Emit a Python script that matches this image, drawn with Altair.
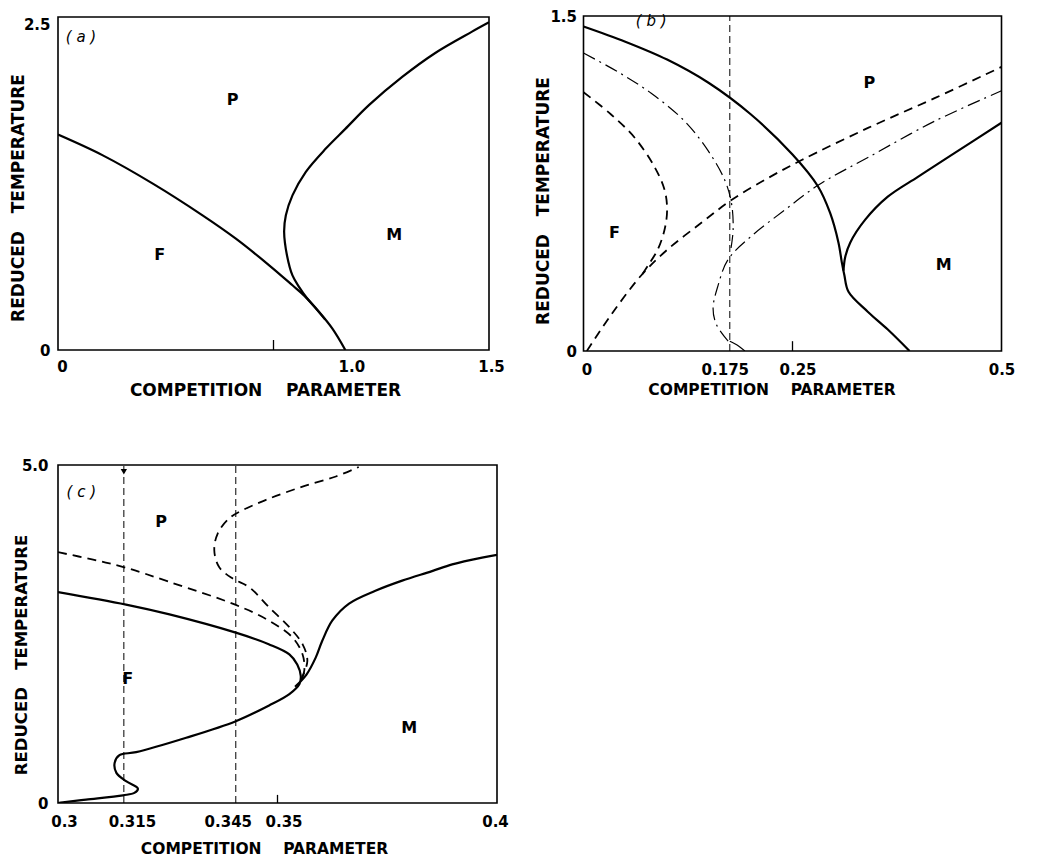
import altair as alt
import pandas as pd

FONT = "DejaVu Sans"
X_TITLE = "COMPETITION\u00a0\u00a0\u00a0\u00a0PARAMETER"
Y_TITLE = "REDUCED\u00a0\u00a0\u00a0TEMPERATURE"

# ---------------- panel (a) ----------------
a_x_ticks = [0.0, 1.0, 1.5]
a_x_tick_labels = ["0", "1.0", "1.5"]
a_y_ticks = [0.0, 2.5]
a_y_tick_labels = ["0", "2.5"]
a_fp_x = [0.0, 0.156, 0.33, 0.503, 0.619, 0.735, 0.816, 0.856, 0.909, 0.955, 1.0]
a_fp_y = [1.617, 1.461, 1.249, 1.011, 0.836, 0.636, 0.486, 0.41, 0.285, 0.16, 0.0]
a_pm_x = [0.93, 0.895, 0.866, 0.84, 0.816, 0.797, 0.787, 0.793, 0.816, 0.862, 0.932, 1.0, 1.083, 1.198,
          1.313, 1.441, 1.5]
a_pm_y = [0.228, 0.318, 0.39, 0.47, 0.56, 0.71, 0.886, 1.011, 1.161, 1.336, 1.512, 1.66, 1.84, 2.05,
          2.23, 2.39, 2.46]
a_minor_ticks = [0.75]
a_region_text = ["P", "F", "M"]
a_region_x = [0.608, 0.354, 1.17]
a_region_y = [1.88, 0.713, 0.863]
a_tag = ["( a )"]
a_tag_x = [0.08]
a_tag_y = [2.35]

# ---------------- panel (b) ----------------
b_x_ticks = [0.0, 0.175, 0.25, 0.5]
b_x_tick_labels = ["0", "0.175", "0.25", "0.5"]
b_y_ticks = [0.0, 1.5]
b_y_tick_labels = ["0", "1.5"]
b_fp_x = [0.0, 0.05, 0.1, 0.15, 0.2, 0.25, 0.28, 0.295, 0.305, 0.309, 0.312, 0.317, 0.340, 0.364, 0.39]
b_fp_y = [1.453, 1.385, 1.305, 1.2, 1.06, 0.88, 0.74, 0.618, 0.485, 0.397, 0.34, 0.265, 0.176, 0.096, 0.0]
b_pm_x = [0.311, 0.313, 0.319, 0.337, 0.364, 0.400, 0.440, 0.5]
b_pm_y = [0.36, 0.42, 0.485, 0.588, 0.691, 0.78, 0.877, 1.022]
b_d1_x = [0.0, 0.033, 0.061, 0.085, 0.097, 0.100, 0.097, 0.089, 0.077, 0.068]
b_d1_y = [1.159, 1.059, 0.956, 0.824, 0.721, 0.632, 0.544, 0.456, 0.382, 0.33]
b_d2_x = [0.004, 0.033, 0.069, 0.101, 0.141, 0.177, 0.221, 0.261, 0.341, 0.420, 0.5]
b_d2_y = [0.0, 0.162, 0.338, 0.456, 0.574, 0.676, 0.775, 0.855, 1.0, 1.132, 1.272]
b_dd1_x = [0.0, 0.041, 0.081, 0.121, 0.149, 0.169, 0.177, 0.179, 0.176]
b_dd1_y = [1.334, 1.25, 1.154, 1.029, 0.897, 0.765, 0.662, 0.544, 0.45]
b_dd2_x = [0.173, 0.159, 0.155, 0.161, 0.173, 0.201, 0.241, 0.281, 0.341, 0.420, 0.5]
b_dd2_y = [0.044, 0.118, 0.191, 0.294, 0.41, 0.515, 0.632, 0.743, 0.868, 1.029, 1.165]
b_seg_x = [0.175, 0.185, 0.193]
b_seg_y = [0.044, 0.024, 0.0]
b_vlines = [0.175]
b_minor_ticks = [0.25]
b_region_text = ["P", "F", "M"]
b_region_x = [0.342, 0.037, 0.431]
b_region_y = [1.2, 0.53, 0.384]
b_tag = ["( b )"]
b_tag_x = [0.081]
b_tag_y = [1.478]

# ---------------- panel (c) ----------------
c_x_ticks = [0.3, 0.315, 0.3405, 0.35, 0.4]
c_x_tick_labels = ["0.3", "0.315", "0.345", "0.35", "0.4"]
c_y_ticks = [0.0, 5.0]
c_y_tick_labels = ["0", "5.0"]
c_fp_x = [0.3, 0.3155, 0.3254, 0.3405, 0.348, 0.3527, 0.3545, 0.3553, 0.355, 0.3527, 0.348, 0.3405,
          0.3292, 0.3178, 0.314, 0.3129, 0.3133, 0.3155, 0.3182, 0.3174, 0.3148, 0.3064, 0.3011, 0.3]
c_fp_y = [3.12, 2.935, 2.79, 2.52, 2.35, 2.20, 2.05, 1.88, 1.76, 1.61, 1.44, 1.21,
          0.965, 0.752, 0.708, 0.594, 0.446, 0.322, 0.213, 0.149, 0.114, 0.05, 0.01, 0.0]
c_pm_x = [0.354, 0.3566, 0.3587, 0.3602, 0.3625, 0.3663, 0.3723, 0.3784, 0.3852, 0.3898, 0.3966, 0.4]
c_pm_y = [1.72, 1.9, 2.15, 2.40, 2.70, 2.95, 3.14, 3.29, 3.43, 3.53, 3.63, 3.67]
c_d1_x = [0.3, 0.308, 0.3155, 0.3254, 0.3405, 0.348, 0.3534, 0.3557, 0.3561, 0.3553]
c_d1_y = [3.71, 3.6, 3.48, 3.27, 2.93, 2.70, 2.45, 2.20, 1.96, 1.81]
c_d2_x = [0.3553, 0.3568, 0.3557, 0.3527, 0.348, 0.3436, 0.3398, 0.3367, 0.3356, 0.3364, 0.339,
          0.342, 0.348, 0.3557, 0.3633, 0.3685]
c_d2_y = [1.81, 2.10, 2.35, 2.60, 2.90, 3.19, 3.32, 3.49, 3.74, 3.99, 4.21, 4.33, 4.50, 4.68, 4.83, 4.97]
c_vlines = [0.315, 0.3405]
c_minor_ticks = [0.35]
c_arrow_x = [0.315]
c_arrow_y = [4.9]
c_region_text = ["P", "F", "M"]
c_region_x = [0.3235, 0.3159, 0.38]
c_region_y = [4.16, 1.83, 1.11]
c_tag = ["( c )"]
c_tag_x = [0.3053]
c_tag_y = [4.6]

# label nudges (pixels) so tick labels sit where the original lettering does
a_x_label_nudge = [4, 6, 2]
b_x_label_nudge = [3, -5, 5, 0]
c_x_label_nudge = [6, 8, -8, 6, -2]


def curve_df(name, xs, ys):
    return pd.DataFrame({"x": xs, "y": ys, "series": name, "i": list(range(len(xs)))})


def label_expr(vals, texts):
    expr = "''"
    for v, t in zip(reversed(vals), reversed(texts)):
        expr = f"abs(datum.value - ({v})) < 1e-9 ? '{t}' : {expr}"
    return expr


def offset_cond(vals, offs):
    conds = [{"test": f"abs(datum.value - ({v})) < 1e-9", "value": o} for v, o in zip(vals, offs) if o != 0]
    return {"condition": conds, "value": 0}


def panel(xdom, ydom, w, h, xticks, xlabels, xnudge, yticks, ylabels,
          xtitle_size, xtitle_pos, xlab_pad, ytitle_size, ytitle_pos, ylab_pad,
          solid, dashed, dashdot, thin, vlines, minor, minor_h,
          rx, ry, rt, tx, ty, tt, top_label_top=False, arrows=None):
    yaxis_kw = dict(values=yticks, labelExpr=label_expr(yticks, ylabels), title=Y_TITLE,
                    titleFontSize=ytitle_size, titleX=ytitle_pos[0], titleY=ytitle_pos[1],
                    titleBaseline="middle", labelPadding=ylab_pad, labelOverlap=False)
    if top_label_top:
        yaxis_kw["labelBaseline"] = {"condition": {"test": f"datum.value == {yticks[-1]}", "value": "top"},
                                     "value": "middle"}
    xenc = alt.X("x:Q", scale=alt.Scale(domain=xdom, nice=False, zero=False),
                 axis=alt.Axis(values=xticks, labelExpr=label_expr(xticks, xlabels), title=X_TITLE,
                               titleFontSize=xtitle_size, titleX=xtitle_pos[0], titleY=xtitle_pos[1],
                               titleBaseline="middle", labelPadding=xlab_pad, labelFlush=False,
                               labelOverlap=False, labelOffset=offset_cond(xticks, xnudge)))
    yenc = alt.Y("y:Q", scale=alt.Scale(domain=ydom, nice=False, zero=False), axis=alt.Axis(**yaxis_kw))

    def lines(dfs, **mk):
        df = pd.concat(dfs, ignore_index=True)
        return alt.Chart(df).mark_line(color="black", interpolate="catmull-rom", clip=True, **mk).encode(
            x=xenc, y=yenc, detail="series:N", order="i:Q")

    layers = []
    if vlines:
        vdf = pd.DataFrame({"x": vlines, "y": [ydom[0]] * len(vlines), "y2": [ydom[1]] * len(vlines)})
        layers.append(alt.Chart(vdf).mark_rule(color="black", strokeWidth=1.0, strokeDash=[7, 4]).encode(
            x=xenc, y=yenc, y2="y2:Q"))
    tdf = pd.DataFrame({"x": minor, "y": [ydom[0]] * len(minor), "y2": [ydom[0] + minor_h] * len(minor)})
    layers.append(alt.Chart(tdf).mark_rule(color="black", strokeWidth=1.3).encode(x=xenc, y=yenc, y2="y2:Q"))
    if dashdot:
        layers.append(lines(dashdot, strokeWidth=1.2, strokeDash=[13, 5, 2, 5]))
    if dashed:
        layers.append(lines(dashed, strokeWidth=1.8, strokeDash=[9, 6]))
    if thin:
        layers.append(lines(thin, strokeWidth=1.2))
    layers.append(lines(solid, strokeWidth=2.2))
    if arrows is not None:
        adf = pd.DataFrame({"x": arrows[0], "y": arrows[1]})
        layers.append(alt.Chart(adf).mark_point(shape="triangle-down", filled=True, size=40,
                                                color="black", opacity=1).encode(x=xenc, y=yenc))
    rdf = pd.DataFrame({"x": rx, "y": ry, "t": rt})
    layers.append(alt.Chart(rdf).mark_text(font=FONT, fontWeight="bold", fontSize=16, color="black").encode(
        x=xenc, y=yenc, text="t:N"))
    gdf = pd.DataFrame({"x": tx, "y": ty, "t": tt})
    layers.append(alt.Chart(gdf).mark_text(font=FONT, fontStyle="italic", fontSize=15, color="black").encode(
        x=xenc, y=yenc, text="t:N"))
    return alt.layer(*layers).properties(width=w, height=h)


pa = panel([0, 1.5], [0, 2.5], 431, 333, a_x_ticks, a_x_tick_labels, a_x_label_nudge,
           a_y_ticks, a_y_tick_labels,
           17, (207, 40), 9, 17, (-40, 180.5), 8,
           [curve_df("fp", a_fp_x, a_fp_y), curve_df("pm", a_pm_x, a_pm_y)], [], [], [], [],
           a_minor_ticks, 0.075,
           a_region_x, a_region_y, a_region_text, a_tag_x, a_tag_y, a_tag, top_label_top=True)

pb = panel([0, 0.5], [0, 1.5], 418, 335, b_x_ticks, b_x_tick_labels, b_x_label_nudge,
           b_y_ticks, b_y_tick_labels,
           15.5, (188, 38), 11.5, 17, (-40, 184.5), 7,
           [curve_df("fp", b_fp_x, b_fp_y), curve_df("pm", b_pm_x, b_pm_y)],
           [curve_df("d1", b_d1_x, b_d1_y), curve_df("d2", b_d2_x, b_d2_y)],
           [curve_df("dd1", b_dd1_x, b_dd1_y), curve_df("dd2", b_dd2_x, b_dd2_y)],
           [curve_df("seg", b_seg_x, b_seg_y)], b_vlines,
           b_minor_ticks, 0.044,
           b_region_x, b_region_y, b_region_text, b_tag_x, b_tag_y, b_tag)

pc = panel([0.3, 0.4], [0, 5.0], 439, 338, c_x_ticks, c_x_tick_labels, c_x_label_nudge,
           c_y_ticks, c_y_tick_labels,
           15.5, (206, 45), 11.5, 16.5, (-37, 189.5), 10,
           [curve_df("fp", c_fp_x, c_fp_y), curve_df("pm", c_pm_x, c_pm_y)],
           [curve_df("d1", c_d1_x, c_d1_y), curve_df("d2", c_d2_x, c_d2_y)], [], [], c_vlines,
           c_minor_ticks, 0.12,
           c_region_x, c_region_y, c_region_text, c_tag_x, c_tag_y, c_tag,
           arrows=(c_arrow_x, c_arrow_y))

chart = alt.concat(pa, pb, pc, columns=2, spacing={"row": 114, "column": 86.5}, bounds="flush",
                   center={"row": True, "column": False}).properties(padding=0).configure_view(
    stroke="black", strokeWidth=1.6).configure_axis(
    domain=False, grid=False, ticks=False, tickSize=0,
    labelFont=FONT, labelFontSize=15, labelFontWeight="bold", labelColor="black",
    titleFont=FONT, titleFontWeight="bold", titleColor="black")

chart.save("out.html", embed_options={"renderer": "svg", "actions": False})
